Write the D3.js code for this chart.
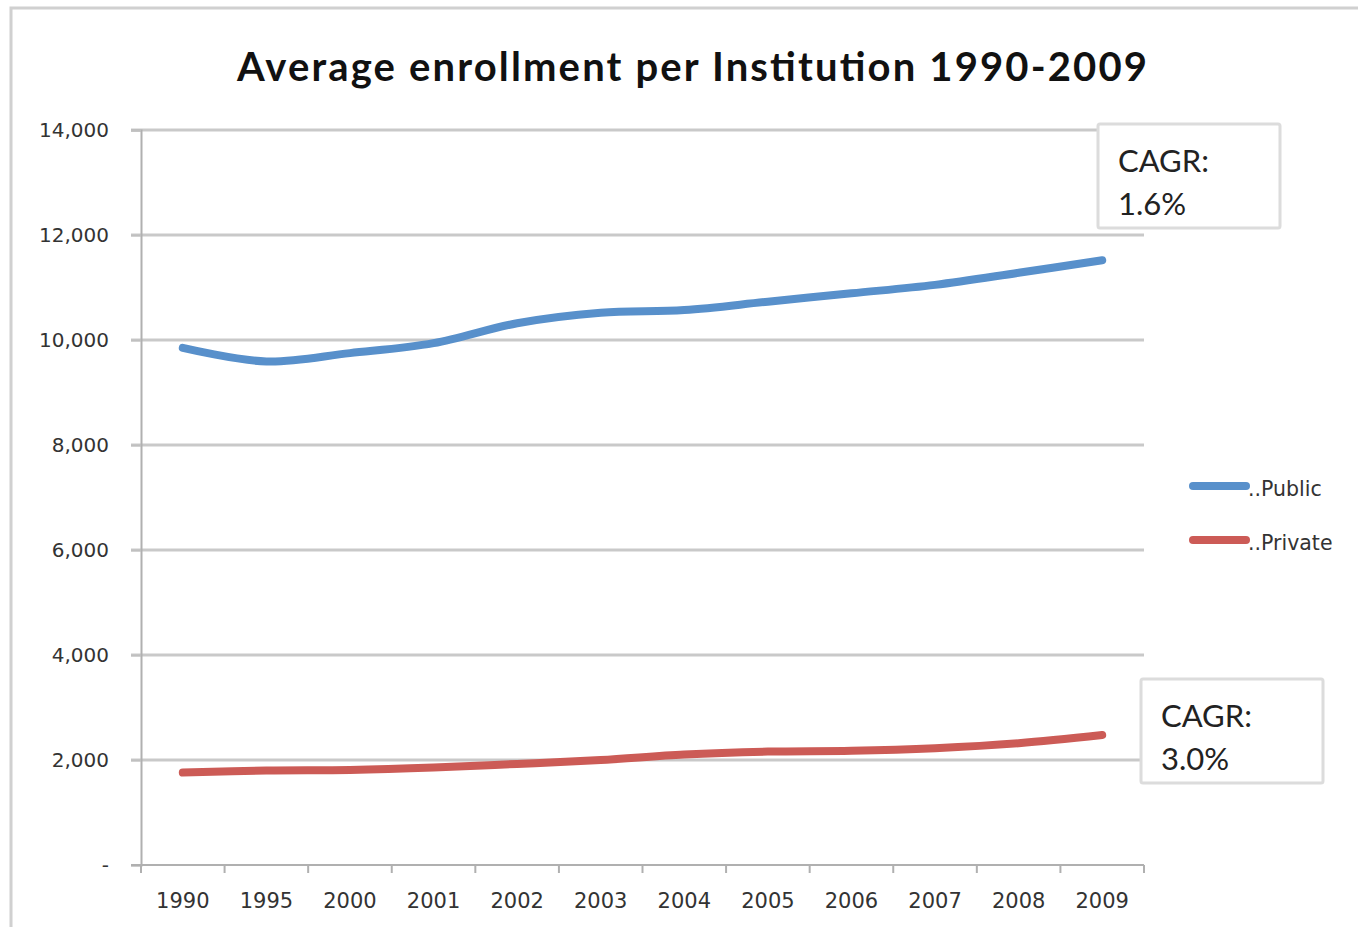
<!DOCTYPE html>
<html><head><meta charset="utf-8">
<script src="https://cdn.jsdelivr.net/npm/d3@7"></script>
<style>body{margin:0;background:#fff}svg{display:block}text{font-family:Lato,"Open Sans",sans-serif}</style>
</head><body>
<script>
const years = ["1990","1995","2000","2001","2002","2003","2004","2005","2006","2007","2008","2009"];
const publicVals = [9850,9590,9750,9940,10320,10520,10570,10730,10890,11050,11280,11520];
const privateVals = [1760,1800,1810,1855,1925,2000,2105,2160,2175,2225,2320,2475];
const yTicks = [0,2000,4000,6000,8000,10000,12000,14000];
const seriesNames = ["..Public","..Private"];
const cagrLabels = [["CAGR:","1.6%"],["CAGR:","3.0%"]];

const W=1358,H=927;
const svg=d3.select("body").append("svg").attr("width",W).attr("height",H);
svg.append("rect").attr("x",11).attr("y",8).attr("width",W+10).attr("height",H+10).attr("fill","#fff").attr("stroke","#d0d0d0").attr("stroke-width",3);

const L=141,R=1144,T=130,B=865;
const x=d3.scaleBand().domain(years).range([L,R]);
const y=d3.scaleLinear().domain([0,14000]).range([B,T]);
const axisFont='"DejaVu Sans",Verdana,sans-serif';

// gridlines
svg.append("g").selectAll("line").data(yTicks.filter(d=>d>0)).join("line")
  .attr("x1",L-10).attr("x2",R).attr("y1",d=>y(d)).attr("y2",d=>y(d))
  .attr("stroke","#c9c9c9").attr("stroke-width",3);

// y axis
const ya=svg.append("g").attr("transform",`translate(${L},0)`)
  .call(d3.axisLeft(y).tickValues(yTicks).tickSize(10).tickPadding(22).tickFormat(d=>d===0?"-":d3.format(",")(d)));
ya.select(".domain").attr("stroke","#b0b0b0").attr("stroke-width",2);
ya.selectAll(".tick line").attr("stroke","#c0c0c0").attr("stroke-width",2);
ya.selectAll("text").attr("font-size",20).attr("fill","#333").style("font-family",axisFont);

// x axis
const xa=svg.append("g").attr("transform",`translate(0,${B})`)
  .call(d3.axisBottom(x).tickSize(0).tickPadding(28));
xa.select(".domain").remove();
xa.selectAll("text").attr("font-size",21).attr("fill","#333").style("font-family",axisFont);
svg.append("line").attr("x1",L-10).attr("x2",R).attr("y1",B).attr("y2",B).attr("stroke","#b0b0b0").attr("stroke-width",2);
const bounds=years.map(d=>x(d)).concat([R]);
svg.append("g").selectAll("line").data(bounds).join("line")
  .attr("x1",d=>d).attr("x2",d=>d).attr("y1",B).attr("y2",B+8).attr("stroke","#b0b0b0").attr("stroke-width",2);

// lines
const colors=["#5890CB","#CC5B56"];
const line=d3.line().x((d,i)=>x(years[i])+x.bandwidth()/2).y(d=>y(d)).curve(d3.curveCatmullRom.alpha(0.5));
[publicVals,privateVals].forEach((vals,i)=>{
  svg.append("path").datum(vals).attr("d",line).attr("fill","none")
    .attr("stroke",colors[i]).attr("stroke-width",8).attr("stroke-linecap","round").attr("stroke-linejoin","round");
});

// title
svg.append("text").attr("x",692).attr("y",81).attr("text-anchor","middle")
  .attr("font-size",40).attr("font-weight","bold").attr("fill","#111")
  .attr("textLength",910).attr("lengthAdjust","spacing")
  .text("Average enrollment per Institution 1990-2009");

// legend
const lg=svg.append("g");
seriesNames.forEach((n,i)=>{
  const ly=486+i*54;
  lg.append("line").attr("x1",1193).attr("x2",1246).attr("y1",ly).attr("y2",ly)
    .attr("stroke",colors[i]).attr("stroke-width",8).attr("stroke-linecap","round");
  lg.append("text").attr("x",1248).attr("y",ly+10).attr("font-size",20.5).attr("fill","#333")
    .style("font-family",axisFont).text(n);
});

// CAGR boxes
const boxes=[{x:1098,y:124},{x:1141,y:679}];
boxes.forEach((b,i)=>{
  const g=svg.append("g");
  g.append("rect").attr("x",b.x).attr("y",b.y).attr("width",182).attr("height",104)
    .attr("fill","#fff").attr("stroke","#dcdcdc").attr("stroke-width",3).attr("rx",2);
  cagrLabels[i].forEach((t,j)=>{
    g.append("text").attr("x",b.x+20).attr("y",b.y+48+j*43).attr("font-size",31).attr("fill","#222").text(t);
  });
});
</script>
</body></html>
